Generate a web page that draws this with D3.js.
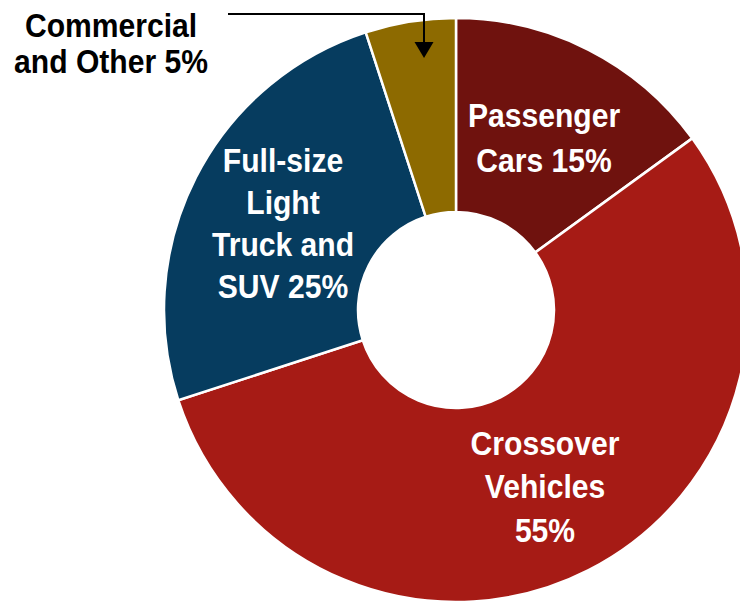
<!DOCTYPE html>
<html><head><meta charset="utf-8">
<script src="https://cdn.jsdelivr.net/npm/d3@7"></script>
<style>html,body{margin:0;padding:0;background:#fff;}svg{display:block;}</style>
</head><body>
<svg id="chart" width="740" height="602"></svg>
<script>
const categories = ["Passenger Cars", "Crossover Vehicles", "Full-size Light Truck and SUV", "Commercial and Other"];
const values = [15, 55, 25, 5];
const colors = ["#6f120e", "#a61b15", "#063c5f", "#8d6a00"];
const labelLines = [["Passenger", "Cars 15%"], ["Crossover", "Vehicles", "55%"], ["Full-size", "Light", "Truck and", "SUV 25%"], ["Commercial", "and Other 5%"]];

const FONT = "'Liberation Sans',Arial,sans-serif";
const SX = 0.885, FS = 34;
const svg = d3.select("#chart");
const cx = 456, cy = 310, R = 292, r = 98;

const pie = d3.pie().sort(null).value(d => d)(values);
const arc = d3.arc().innerRadius(r).outerRadius(R);
const g = svg.append("g").attr("transform", `translate(${cx},${cy})`);
g.selectAll("path").data(pie).enter().append("path")
  .attr("d", arc).attr("fill", (d, i) => colors[i])
  .attr("stroke", "#fff").attr("stroke-width", 2.5);

function label(lines, x, y, lh, fill) {
  const t = svg.append("text").attr("fill", fill).attr("font-family", FONT)
    .attr("font-weight", "bold").attr("font-size", FS).attr("text-anchor", "middle")
    .attr("transform", `translate(${x},0) scale(${SX},1)`);
  lines.forEach((ln, j) => t.append("tspan").attr("x", 0).attr("y", y + j * lh).text(ln));
}
label(labelLines[0], 544, 127, 45, "#fff");
label(labelLines[1], 545, 455, 43.5, "#fff");
label(labelLines[2], 283, 172, 42, "#fff");
label(labelLines[3], 111, 37, 36, "#000");

// arrow
svg.append("path").attr("d", "M228,14H424V44").attr("fill", "none")
  .attr("stroke", "#000").attr("stroke-width", 2);
svg.append("path").attr("d", "M414.5,42L433.5,42L424,58Z").attr("fill", "#000");
</script>
</body></html>
